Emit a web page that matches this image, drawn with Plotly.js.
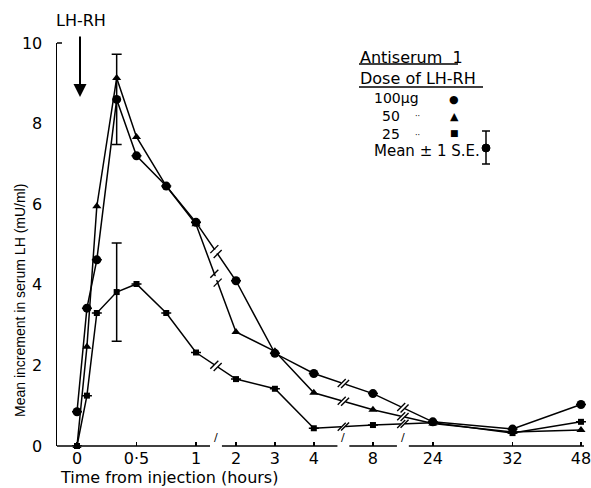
<!DOCTYPE html>
<html><head><meta charset="utf-8">
<script src="https://cdn.plot.ly/plotly-3.0.1.min.js"></script>
<style>html,body{margin:0;padding:0;background:#fff}#chart{width:591px;height:488px}</style>
</head><body><div id="chart"></div>
<script>
// ---- data (time in hours after injection, LH increment in mU/ml) ----
const timesHours = [0, 5/60, 10/60, 20/60, 30/60, 45/60, 1, 2, 3, 4, 8, 24, 32, 48];
const dose100 = [0.85, 3.42, 4.62, 8.6, 7.2, 6.45, 5.55, 4.1, 2.3, 1.8, 1.3, 0.6, 0.42, 1.03];
const dose50  = [0, 2.46, 5.95, 9.13, 7.67, 6.45, 5.5, 2.83, 2.35, 1.32, 0.9, 0.56, 0.35, 0.4];
const dose25  = [0, 1.25, 3.3, 3.82, 4.02, 3.3, 2.32, 1.66, 1.42, 0.44, 0.52, 0.58, 0.32, 0.6];
const se100   = [null, null, null, 1.12, null, null, null, null, null, null, null, null, null, null];
const se25    = [null, null, null, 1.22, null, null, null, null, null, null, null, null, null, null];
const tickHours  = [0, 0.5, 1, 2, 3, 4, 8, 24, 32, 48];
const tickLabels = ['0', '0·5', '1', '2', '3', '4', '8', '24', '32', '48'];
const yTickVals  = [0, 2, 4, 6, 8, 10];
const breakHours = [1.5, 6, 16];

// ---- broken, piecewise time axis (hours -> axis position) ----
const scaleHours = [0, 1, 2, 4, 8, 24, 32, 48];
const scalePos   = [0, 1, 1.336, 1.99, 2.487, 2.99, 3.66, 4.235];
function pos(h) {
  for (let i = 0; i < scaleHours.length - 1; i++) {
    if (h <= scaleHours[i + 1]) {
      const f = (h - scaleHours[i]) / (scaleHours[i + 1] - scaleHours[i]);
      return scalePos[i] + f * (scalePos[i + 1] - scalePos[i]);
    }
  }
  return scalePos[scalePos.length - 1];
}
const X = timesHours.map(pos);
function interpAt(p, xs, ys) {
  for (let i = 0; i < xs.length - 1; i++) {
    if (p >= xs[i] && p <= xs[i + 1]) {
      return ys[i] + (p - xs[i]) / (xs[i + 1] - xs[i]) * (ys[i + 1] - ys[i]);
    }
  }
  return null;
}

const FONT = 'DejaVu Sans, sans-serif';
const FONT2 = 'Liberation Sans, Arial, sans-serif';
const L = 57, R = 2, T = 43, B = 42, W = 591, H = 488;
const pw = W - L - R, ph = H - T - B;
const px = x => (x - L) / pw;
const py = y => (H - B - y) / ph;

const lineStyle = {color: '#000', width: 1.5};
const traces = [
  {x: X, y: dose100, mode: 'lines+markers', line: lineStyle, cliponaxis: false,
   marker: {symbol: 'circle', size: 9, color: '#000'},
   error_y: {type: 'data', array: se100, visible: true, color: '#000', thickness: 1.5, width: 5}},
  {x: X, y: dose50, mode: 'lines+markers', line: lineStyle, cliponaxis: false,
   marker: {symbol: 'triangle-up', size: 8, color: '#000'}},
  {x: X, y: dose25, mode: 'lines+markers', line: lineStyle, cliponaxis: false,
   marker: {symbol: 'square', size: 6, color: '#000'},
   error_y: {type: 'data', array: se25, visible: true, color: '#000', thickness: 1.5, width: 5}}
];
// break marks on each line: white gap + two slashes
const gx = [], gy = [], sx = [], sy = [];
const d = 0.014;
[dose100, dose50, dose25].forEach(s => {
  breakHours.forEach(bh => {
    const p = pos(bh);
    gx.push(p); gy.push(interpAt(p, X, s));
    sx.push(p - d, p + d); sy.push(interpAt(p - d, X, s), interpAt(p + d, X, s));
  });
});
traces.push({x: gx, y: gy, mode: 'markers', cliponaxis: false, hoverinfo: 'skip',
  marker: {symbol: 'square', size: 4, color: '#fff'}});
traces.push({x: sx, y: sy, mode: 'markers', cliponaxis: false, hoverinfo: 'skip',
  marker: {symbol: 'line-ne', size: 8, color: '#000', line: {color: '#000', width: 1.4}}});

const xMin = -20 / 119, xMax = (W - R - 77) / 119, xEnd = (584 - 77) / 119;
const shapes = [];
// x axis line with breaks
const gap = 0.05;
let segStart = xMin;
breakHours.forEach(bh => {
  const p = pos(bh);
  shapes.push({type: 'line', xref: 'x', yref: 'paper', x0: segStart, x1: p - gap, y0: 0, y1: 0, line: {color: '#000', width: 1.5}});
  segStart = p + gap;
});
shapes.push({type: 'line', xref: 'x', yref: 'paper', x0: segStart, x1: xEnd, y0: 0, y1: 0, line: {color: '#000', width: 1.5}});
// top tick of y axis
shapes.push({type: 'line', xref: 'paper', yref: 'paper', x0: 0, x1: px(62), y0: 1, y1: 1, line: {color: '#000', width: 1.5}});
// legend underlines
shapes.push({type: 'line', xref: 'paper', yref: 'paper', x0: px(359), x1: px(458), y0: py(64), y1: py(64), line: {color: '#000', width: 1.5}});
shapes.push({type: 'line', xref: 'paper', yref: 'paper', x0: px(359), x1: px(483), y0: py(87), y1: py(87), line: {color: '#000', width: 1.5}});
// legend error bar symbol
shapes.push({type: 'line', xref: 'paper', yref: 'paper', x0: px(486), x1: px(486), y0: py(131), y1: py(164), line: {color: '#000', width: 1.5}});
shapes.push({type: 'line', xref: 'paper', yref: 'paper', x0: px(482), x1: px(490), y0: py(131), y1: py(131), line: {color: '#000', width: 1.5}});
shapes.push({type: 'line', xref: 'paper', yref: 'paper', x0: px(482), x1: px(490), y0: py(164), y1: py(164), line: {color: '#000', width: 1.5}});
shapes.push({type: 'circle', xref: 'paper', yref: 'paper', x0: px(482), x1: px(490), y0: py(144), y1: py(152), fillcolor: '#000', line: {color: '#000', width: 1}});

const ann = [];
// axis breaks slashes
breakHours.forEach(bh => {
  ann.push({xref: 'x', yref: 'paper', x: pos(bh), y: 0, text: '/', showarrow: false,
    font: {family: FONT, size: 11, color: '#000'}});
});
function txt(x, y, t, size, anchor, fam) {
  ann.push({xref: 'paper', yref: 'paper', x: px(x), y: py(y), text: t, showarrow: false,
    xanchor: anchor || 'left', yanchor: 'middle', font: {family: fam || FONT, size: size, color: '#000'}});
}
txt(81, 21, 'LH-RH', 16, 'center');
ann.push({xref: 'paper', yref: 'paper', x: px(80), y: py(97), text: '', showarrow: true,
  axref: 'pixel', ayref: 'pixel', ax: 0, ay: -62, arrowhead: 2, arrowsize: 1.3, arrowwidth: 2, arrowcolor: '#000'});
txt(358, 57, 'Antiserum  1', 16);
txt(358, 79, 'Dose of LH-RH', 16);
txt(372, 98, '100µg', 14);
txt(380, 116, '50', 14);
txt(380, 134, '25', 14);
txt(413, 117, '··', 8);
txt(413, 135, '··', 8);
txt(454, 99, '●', 11, 'center');
txt(454, 116, '▲', 11, 'center');
txt(454, 133, '■', 9, 'center');
txt(372, 151, 'Mean ± 1 S.E.', 15);
// axis titles
ann.push({xref: 'paper', yref: 'paper', x: px(20), y: py(301), xanchor: 'center', yanchor: 'middle',
  text: 'Mean increment in serum LH (mU/ml)', textangle: -90, showarrow: false,
  font: {family: FONT2, size: 14, color: '#000'}});
txt(58, 477, 'Time from injection (hours)', 16);

const layout = {
  width: W, height: H, margin: {l: L, r: R, t: T, b: B},
  paper_bgcolor: '#fff', plot_bgcolor: '#fff', showlegend: false,
  xaxis: {range: [xMin, xMax], showgrid: false, zeroline: false, showline: false,
    tickvals: tickHours.map(pos), ticktext: tickLabels, ticks: 'inside', ticklen: 4, tickwidth: 1.5, tickcolor: '#000',
    tickfont: {family: FONT, size: 16, color: '#000'}, ticklabelstandoff: 1, ticklabeloverflow: 'allow'},
  yaxis: {range: [0, 10], showgrid: false, zeroline: false, showline: true, linecolor: '#000', linewidth: 1.5,
    tickvals: yTickVals, ticks: '', tickfont: {family: FONT, size: 16, color: '#000'}, ticklabelstandoff: 10},
  shapes: shapes, annotations: ann
};
Plotly.newPlot('chart', traces, layout, {displayModeBar: false, staticPlot: true});
</script>
</body></html>
